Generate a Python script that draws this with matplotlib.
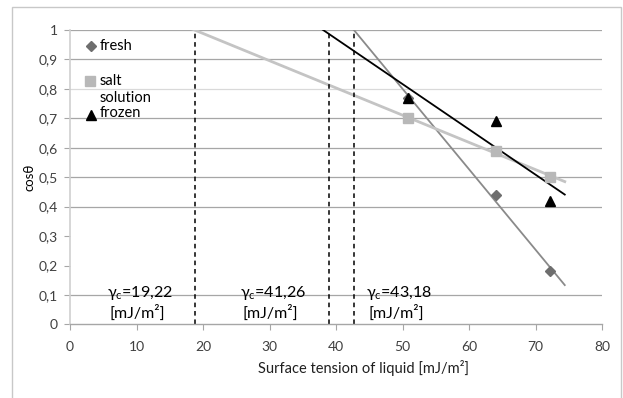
import numpy as np
import matplotlib.pyplot as plt
from matplotlib.patches import Rectangle
from matplotlib.ticker import FuncFormatter

plt.rcParams['font.family'] = ['Lato', 'DejaVu Sans']

# surface tension of test liquids [mJ/m2]
x_liq = [50.8, 64.0, 72.2]
fresh = [0.77, 0.44, 0.18]
salt = [0.70, 0.59, 0.50]
frozen = [0.77, 0.69, 0.42]

# critical surface tension labels and where the dashed lines sit
gamma_c = ["19,22", "41,26", "43,18"]
gamma_lines = [18.8, 38.9, 42.7]
gamma_text_x = [5.5, 25.5, 44.5]

trend_end = 74.4

fig = plt.figure(figsize=(6.23, 3.98), dpi=100)
fig.patch.set_facecolor("white")
ax = fig.add_axes([70 / 623, 1 - 324.4 / 398, 532 / 623, 294.4 / 398])

# chart border like excel
fig.patches.append(Rectangle((12 / 623, -0.05), 609 / 623, 1.05 - 7 / 398,
                             transform=fig.transFigure, fill=False,
                             edgecolor="#c8c8c8", lw=1.0))

# gridlines (0.2 and 0.3 do not show in the original)
for g in [0.1, 0.4, 0.5, 0.6, 0.7, 0.8, 0.9, 1.0]:
    c = "#d9d9d9" if g in (0.8,) else "#a6a6a6"
    ax.axhline(g, color=c, lw=0.9, zorder=0)

# trendlines
xs = np.linspace(0, trend_end, 200)
for ys, col, lw in [(fresh, "#8a8a8a", 1.3), (salt, "#c4c4c4", 2.0), (frozen, "#000000", 1.3)]:
    p = np.polyfit(x_liq, ys, 1)
    ax.plot(xs, np.polyval(p, xs), color=col, lw=lw, zorder=2)

ax.plot(x_liq, fresh, "D", color="#6e6e6e", ms=5, zorder=3)
ax.plot(x_liq, salt, "s", color="#b8b8b8", ms=7, zorder=3)
ax.plot(x_liq, frozen, "^", color="black", ms=7, zorder=3)

for xv in gamma_lines:
    ax.axvline(xv, color="black", ls=(0, (3, 2.5)), lw=1.1, zorder=2)

for tx, g in zip(gamma_text_x, gamma_c):
    ax.text(tx, 0.108, r"γ$_\mathregular{c}$=" + g, fontsize=11.5, va="center", ha="left")
    ax.text(tx + 0.4, 0.038, "[mJ/m²]", fontsize=11.5, va="center", ha="left")

# legend drawn by hand to copy the wrapped "salt solution" entry
ax.plot([3.1], [0.946], "D", color="#6e6e6e", ms=5)
ax.text(4.4, 0.946, "fresh", fontsize=10.5, va="center")
ax.plot([3.0], [0.828], "s", color="#b8b8b8", ms=7)
ax.text(4.4, 0.828, "salt", fontsize=10.5, va="center")
ax.text(4.4, 0.768, "solution", fontsize=10.5, va="center")
ax.plot([3.1], [0.711], "^", color="black", ms=7)
ax.text(4.4, 0.719, "frozen", fontsize=10.5, va="center")

ax.set_xlim(0, 80)
ax.set_ylim(0, 1)
ax.set_xticks(range(0, 81, 10))
ax.set_yticks(np.arange(0, 1.01, 0.1))
ax.yaxis.set_major_formatter(FuncFormatter(lambda v, _: f"{v:.1f}".replace(".", ",").replace("1,0", "1").replace("0,0", "0")))
ax.tick_params(axis="both", labelsize=10, colors="#404040", length=4, width=0.8)
ax.tick_params(axis="x", direction="out", color="#a6a6a6", pad=8)
ax.tick_params(axis="y", direction="out", color="#a6a6a6", pad=5)

for s in ["top", "right"]:
    ax.spines[s].set_visible(False)
ax.spines["left"].set_color("#d0d0d0")
ax.spines["left"].set_linewidth(1.2)
ax.spines["bottom"].set_color("#a6a6a6")
ax.spines["bottom"].set_linewidth(1.0)

ax.set_ylabel("cosθ", fontsize=9.5, labelpad=2)
fig.text(364 / 623, 1 - 368 / 398, "Surface tension of liquid [mJ/m²]", fontsize=10.5,
         ha="center", va="center", color="#202020")

fig.savefig("out.png", dpi=100)
